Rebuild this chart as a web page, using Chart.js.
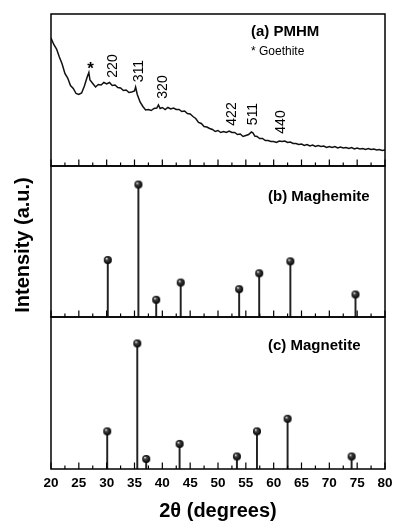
<!DOCTYPE html>
<html>
<head>
<meta charset="utf-8">
<script src="https://cdn.jsdelivr.net/npm/chart.js@4.4.1/dist/chart.umd.min.js"></script>
<style>
  html, body { margin: 0; padding: 0; background: #fff; }
  #wrap { position: relative; width: 393px; height: 523px; }
  #wrap canvas { position: absolute; left: 0; top: 0; }
</style>
</head>
<body>
<div id="wrap">
  <canvas id="chartA" width="393" height="523"></canvas>
  <canvas id="chartB" width="393" height="523"></canvas>
  <canvas id="chartC" width="393" height="523"></canvas>
</div>
<script>
const pmhmTheta = [
  20.0, 20.5, 21.0, 21.5, 22.0, 22.5, 23.0, 23.5, 24.0, 24.5, 25.0, 25.5, 26.0, 26.5, 26.8,
  27.0, 27.5, 28.0, 28.5, 29.0, 29.5, 30.0, 30.5, 31.0, 31.5, 32.0, 32.5, 33.0, 33.5, 34.0,
  34.5, 35.0, 35.2, 35.5, 36.0, 36.5, 37.0, 37.5, 38.0, 38.5, 39.0, 39.3, 39.6, 40.0, 40.5,
  41.0, 41.5, 42.0, 42.5, 43.0, 43.5, 44.0, 44.5, 45.0, 45.5, 46.0, 46.5, 47.0, 47.5, 48.0,
  48.5, 49.0, 49.5, 50.0, 50.5, 51.0, 51.5, 52.0, 52.5, 53.0, 53.5, 54.0, 54.5, 55.0, 55.5,
  56.0, 56.3, 56.6, 57.0, 57.5, 58.0, 58.5, 59.0, 59.5, 60.0, 60.5, 61.0, 61.5, 62.0, 62.5,
  63.0, 63.5, 64.0, 64.5, 65.0, 65.5, 66.0, 66.5, 67.0, 67.5, 68.0, 68.5, 69.0, 69.5, 70.0,
  70.5, 71.0, 71.5, 72.0, 72.5, 73.0, 73.5, 74.0, 74.5, 75.0, 75.5, 76.0, 76.5, 77.0, 77.5,
  78.0, 78.5, 79.0, 79.5, 80.0
];
const pmhmIntensity = [
  128, 121.5, 117, 109, 102, 92.5, 88, 80.5, 77.5, 72.5, 71.5, 73, 80, 89, 93.5,
  86, 82.5, 79, 81.5, 81, 83.5, 82, 83.5, 80.5, 81, 78.5, 78, 75.5, 76, 73.5,
  74, 75, 79, 71.5, 64, 59.5, 56, 56.5, 55.5, 57.5, 58, 61, 57.5, 58.5, 56.5,
  58.5, 57, 58, 56.5, 56.5, 54.5, 55, 52.5, 52, 49.5, 47.5, 43.5, 42.5, 39.5, 39,
  37.5, 36.5, 34.5, 35.5, 33.5, 34.5, 33.5, 35, 33.5, 33.5, 31.5, 32, 29.5, 30.5, 31.5,
  34, 33, 30, 29.5, 27.5, 27.5, 25.5, 25.5, 24.5, 24.5, 23.5, 25, 24.5, 25, 23.5,
  24, 22.5, 22.5, 21.5, 22, 20.5, 21.5, 20, 21, 19.5, 20.5, 19.5, 20, 18.5, 19.5,
  18.5, 19.5, 18, 19, 18, 18.5, 17.5, 18.5, 17, 18, 17, 17.5, 16.5, 17.5, 16.5,
  17, 16, 16.5, 15.5, 16
];

// (b) Maghemite reference lines
const maghemiteTheta = [30.2, 35.7, 38.9, 43.3, 53.8, 57.4, 63.0, 74.7];
const maghemiteIntensity = [43, 100, 13, 26, 21, 33, 42, 17];

// (c) Magnetite reference lines
const magnetiteTheta = [30.1, 35.5, 37.1, 43.1, 53.4, 57.0, 62.5, 74.0];
const magnetiteIntensity = [30, 100, 8, 20, 10, 30, 40, 10];

const xTickLabels = [20, 25, 30, 35, 40, 45, 50, 55, 60, 65, 70, 75, 80];
const xMinorTicks = [22.5, 27.5, 32.5, 37.5, 42.5, 47.5, 52.5, 57.5, 62.5, 67.5, 72.5, 77.5];

const FONT = '"Liberation Sans", Arial, sans-serif';

function makeBall(r) {
  const c = document.createElement('canvas');
  c.width = c.height = r * 2 + 2;
  const g = c.getContext('2d');
  const cx = r + 1, cy = r + 1;
  const grad = g.createRadialGradient(cx - r * 0.35, cy - r * 0.4, 0.3, cx, cy, r);
  grad.addColorStop(0, '#eeeeee');
  grad.addColorStop(0.3, '#444444');
  grad.addColorStop(1, '#000000');
  g.fillStyle = grad;
  g.beginPath();
  g.arc(cx, cy, r, 0, Math.PI * 2);
  g.fill();
  return c;
}
const ball = makeBall(4);

// box + inward ticks on the bottom edge
const framePlugin = {
  id: 'frame',
  afterDraw(chart) {
    const { ctx, chartArea: a } = chart;
    const x = chart.scales.x;
    ctx.save();
    ctx.strokeStyle = '#000';
    ctx.lineWidth = 1.5;
    ctx.strokeRect(a.left, a.top, a.right - a.left, a.bottom - a.top);
    ctx.lineWidth = 1.2;
    ctx.beginPath();
    xTickLabels.forEach(v => {
      const px = x.getPixelForValue(v);
      ctx.moveTo(px, a.bottom);
      ctx.lineTo(px, a.bottom - 6.5);
    });
    xMinorTicks.forEach(v => {
      const px = x.getPixelForValue(v);
      ctx.moveTo(px, a.bottom);
      ctx.lineTo(px, a.bottom - 3.5);
    });
    ctx.stroke();
    ctx.restore();
  }
};

// tick labels and axis title under the bottom panel
const xAxisTextPlugin = {
  id: 'xAxisText',
  afterDraw(chart) {
    const { ctx, chartArea: a } = chart;
    const x = chart.scales.x;
    ctx.save();
    ctx.fillStyle = '#000';
    ctx.textAlign = 'center';
    ctx.textBaseline = 'middle';
    ctx.font = 'bold 13.5px ' + FONT;
    xTickLabels.forEach(v => ctx.fillText(String(v), x.getPixelForValue(v), a.bottom + 14));
    ctx.font = 'bold 20px ' + FONT;
    ctx.fillText('2θ (degrees)', (a.left + a.right) / 2, a.bottom + 42);
    ctx.restore();
  }
};

function notesPlugin(items) {
  return {
    id: 'notes',
    afterDraw(chart) {
      const ctx = chart.ctx;
      items.forEach(n => {
        ctx.save();
        ctx.fillStyle = '#000';
        ctx.font = n.font + ' ' + FONT;
        ctx.textAlign = n.align || 'center';
        ctx.textBaseline = 'middle';
        ctx.translate(n.x, n.y);
        if (n.rot) ctx.rotate(-Math.PI / 2);
        ctx.fillText(n.text, 0, 0);
        ctx.restore();
      });
    }
  };
}

function hiddenScales(yMax) {
  return {
    x: { type: 'linear', min: 20, max: 80, offset: false, display: false },
    y: { type: 'linear', min: 0, max: yMax, display: false }
  };
}

function stickDatasets(theta, inten) {
  const pts = theta.map((t, i) => ({ x: t, y: inten[i] }));
  return [
    { type: 'scatter', data: pts, pointStyle: ball, pointRadius: 4 },
    { type: 'bar', data: pts, barThickness: 1.3, backgroundColor: '#222' }
  ];
}

const common = {
  responsive: false,
  animation: false,
  plugins: { legend: { display: false }, tooltip: { enabled: false } }
};

new Chart(document.getElementById('chartA'), {
  type: 'line',
  data: {
    datasets: [{
      data: pmhmTheta.map((t, i) => ({ x: t, y: pmhmIntensity[i] })),
      borderColor: '#111',
      borderWidth: 1.5,
      pointRadius: 0,
      tension: 0
    }]
  },
  options: {
    ...common,
    layout: { padding: { left: 51, right: 8, top: 14, bottom: 357 } },
    scales: hiddenScales(152)
  },
  plugins: [framePlugin, notesPlugin([
    { text: '(a) PMHM', x: 251, y: 32, font: 'bold 15px', align: 'left' },
    { text: '* Goethite', x: 251, y: 52, font: '12px', align: 'left' },
    { text: '*', x: 90.5, y: 69, font: 'bold 17px' },
    { text: '220', x: 113, y: 66, font: '14px', rot: true },
    { text: '311', x: 139, y: 71, font: '14px', rot: true },
    { text: '320', x: 163, y: 87, font: '14px', rot: true },
    { text: '422', x: 232, y: 114, font: '14px', rot: true },
    { text: '511', x: 253, y: 114, font: '14px', rot: true },
    { text: '440', x: 281, y: 122, font: '14px', rot: true }
  ])]
});

new Chart(document.getElementById('chartB'), {
  type: 'bar',
  data: { datasets: stickDatasets(maghemiteTheta, maghemiteIntensity) },
  options: {
    ...common,
    layout: { padding: { left: 51, right: 8, top: 166, bottom: 206 } },
    scales: hiddenScales(114)
  },
  plugins: [framePlugin, notesPlugin([
    { text: '(b) Maghemite', x: 268, y: 197, font: 'bold 15px', align: 'left' },
    { text: 'Intensity (a.u.)', x: 23, y: 245, font: 'bold 20px', rot: true }
  ])]
});

new Chart(document.getElementById('chartC'), {
  type: 'bar',
  data: { datasets: stickDatasets(magnetiteTheta, magnetiteIntensity) },
  options: {
    ...common,
    layout: { padding: { left: 51, right: 8, top: 317, bottom: 54 } },
    scales: hiddenScales(121)
  },
  plugins: [framePlugin, xAxisTextPlugin, notesPlugin([
    { text: '(c) Magnetite', x: 268, y: 346, font: 'bold 15px', align: 'left' }
  ])]
});
</script>
</body>
</html>
